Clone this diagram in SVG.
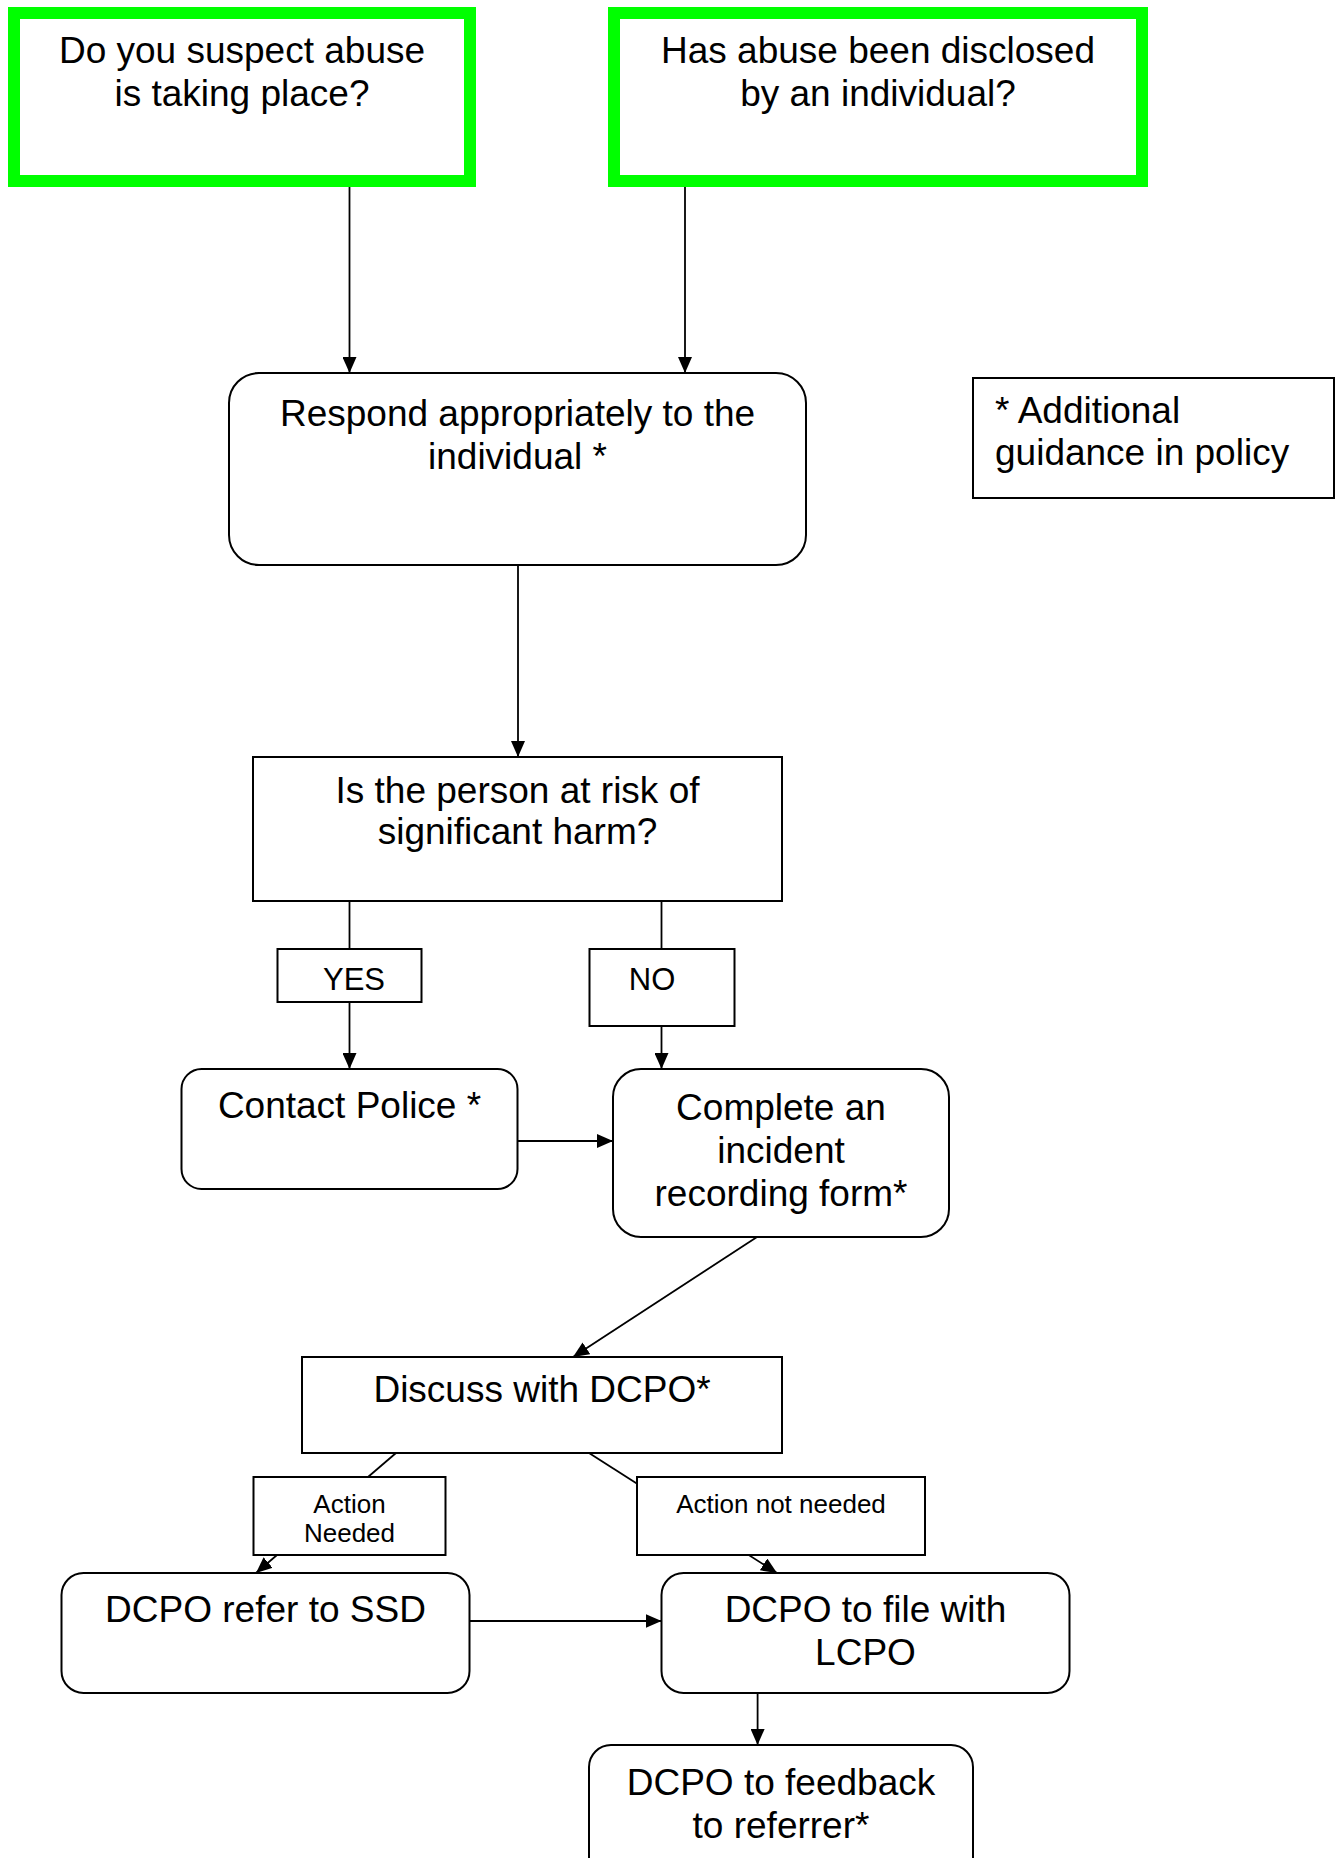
<svg xmlns="http://www.w3.org/2000/svg" width="1341" height="1858" viewBox="0 0 1341 1858">
<defs>
<marker id="arr" markerUnits="userSpaceOnUse" markerWidth="16" markerHeight="14" refX="16" refY="7" orient="auto"><path d="M0,0 L16,7 L0,14 z" fill="#000"/></marker>
</defs>
<style>
.t{font-family:"Liberation Sans",Arial,sans-serif;font-size:37px;fill:#000;text-anchor:middle}
.l{text-anchor:start}
.s{font-size:31px}
.x{font-size:26px}
.g{fill:#fff;stroke:#00ff00;stroke-width:12}
.b{fill:#fff;stroke:#000;stroke-width:2}
.c line{fill:none;stroke:#000;stroke-width:1.8}
</style>
<rect width="1341" height="1858" fill="#fff"/>
<g id="connectors" class="c">
<line x1="349.5" y1="181" x2="349.5" y2="373" marker-end="url(#arr)"/>
<line x1="685" y1="181" x2="685" y2="373" marker-end="url(#arr)"/>
<line x1="518" y1="565" x2="518" y2="757" marker-end="url(#arr)"/>
<line x1="349.5" y1="901" x2="349.5" y2="1069" marker-end="url(#arr)"/>
<line x1="661.5" y1="901" x2="661.5" y2="1069" marker-end="url(#arr)"/>
<line x1="517" y1="1141" x2="613" y2="1141" marker-end="url(#arr)"/>
<line x1="757" y1="1237" x2="573" y2="1357" marker-end="url(#arr)"/>
<line x1="396" y1="1453" x2="256" y2="1573" marker-end="url(#arr)"/>
<line x1="589" y1="1453" x2="777" y2="1573" marker-end="url(#arr)"/>
<line x1="470" y1="1621" x2="661.5" y2="1621" marker-end="url(#arr)"/>
<line x1="757.6" y1="1693" x2="757.6" y2="1745" marker-end="url(#arr)"/>
</g>
<g id="suspect">
<rect class="g" x="14" y="13" width="456" height="168"/>
<text class="t" x="242" y="63">Do you suspect abuse</text>
<text class="t" x="242" y="106">is taking place?</text>
</g>
<g id="disclosed">
<rect class="g" x="614" y="13" width="528" height="168"/>
<text class="t" x="878" y="63">Has abuse been disclosed</text>
<text class="t" x="878" y="106">by an individual?</text>
</g>
<g id="legend">
<rect class="b" x="973" y="378" width="361" height="120"/>
<text class="t l" x="995" y="423">* Additional</text>
<text class="t l" x="995" y="465">guidance in policy</text>
</g>
<g id="respond">
<rect class="b" x="229" y="373" width="577" height="192" rx="30" ry="30"/>
<text class="t" x="517.5" y="426">Respond appropriately to the</text>
<text class="t" x="517.5" y="469">individual *</text>
</g>
<g id="risk">
<rect class="b" x="253" y="757" width="529" height="144"/>
<text class="t" x="517.5" y="803">Is the person at risk of</text>
<text class="t" x="517.5" y="844">significant harm?</text>
</g>
<g id="yes">
<rect class="b" x="277.5" y="949" width="144" height="53"/>
<text class="t s" x="354" y="990">YES</text>
</g>
<g id="no">
<rect class="b" x="589.5" y="949" width="145" height="77"/>
<text class="t s" x="652" y="990">NO</text>
</g>
<g id="police">
<rect class="b" x="181.5" y="1069" width="336" height="120" rx="20" ry="20"/>
<text class="t" x="349.5" y="1118">Contact Police *</text>
</g>
<g id="incident">
<rect class="b" x="613" y="1069" width="336" height="168" rx="28" ry="28"/>
<text class="t" x="781" y="1120">Complete an</text>
<text class="t" x="781" y="1163">incident</text>
<text class="t" x="781" y="1206">recording form*</text>
</g>
<g id="discuss">
<rect class="b" x="302" y="1357" width="480" height="96"/>
<text class="t" x="542" y="1402">Discuss with DCPO*</text>
</g>
<g id="action-needed">
<rect class="b" x="253.5" y="1477" width="192" height="78"/>
<text class="t x" x="349.5" y="1513">Action</text>
<text class="t x" x="349.5" y="1542">Needed</text>
</g>
<g id="action-not-needed">
<rect class="b" x="637" y="1477" width="288" height="78"/>
<text class="t x" x="781" y="1513">Action not needed</text>
</g>
<g id="ssd">
<rect class="b" x="61.5" y="1573" width="408" height="120" rx="22" ry="22"/>
<text class="t" x="265.5" y="1622">DCPO refer to SSD</text>
</g>
<g id="lcpo">
<rect class="b" x="661.5" y="1573" width="408" height="120" rx="22" ry="22"/>
<text class="t" x="865.5" y="1622">DCPO to file with</text>
<text class="t" x="865.5" y="1665">LCPO</text>
</g>
<g id="feedback">
<rect class="b" x="589" y="1745" width="384" height="140" rx="22" ry="22"/>
<text class="t" x="781" y="1795">DCPO to feedback</text>
<text class="t" x="781" y="1838">to referrer*</text>
</g>
</svg>
